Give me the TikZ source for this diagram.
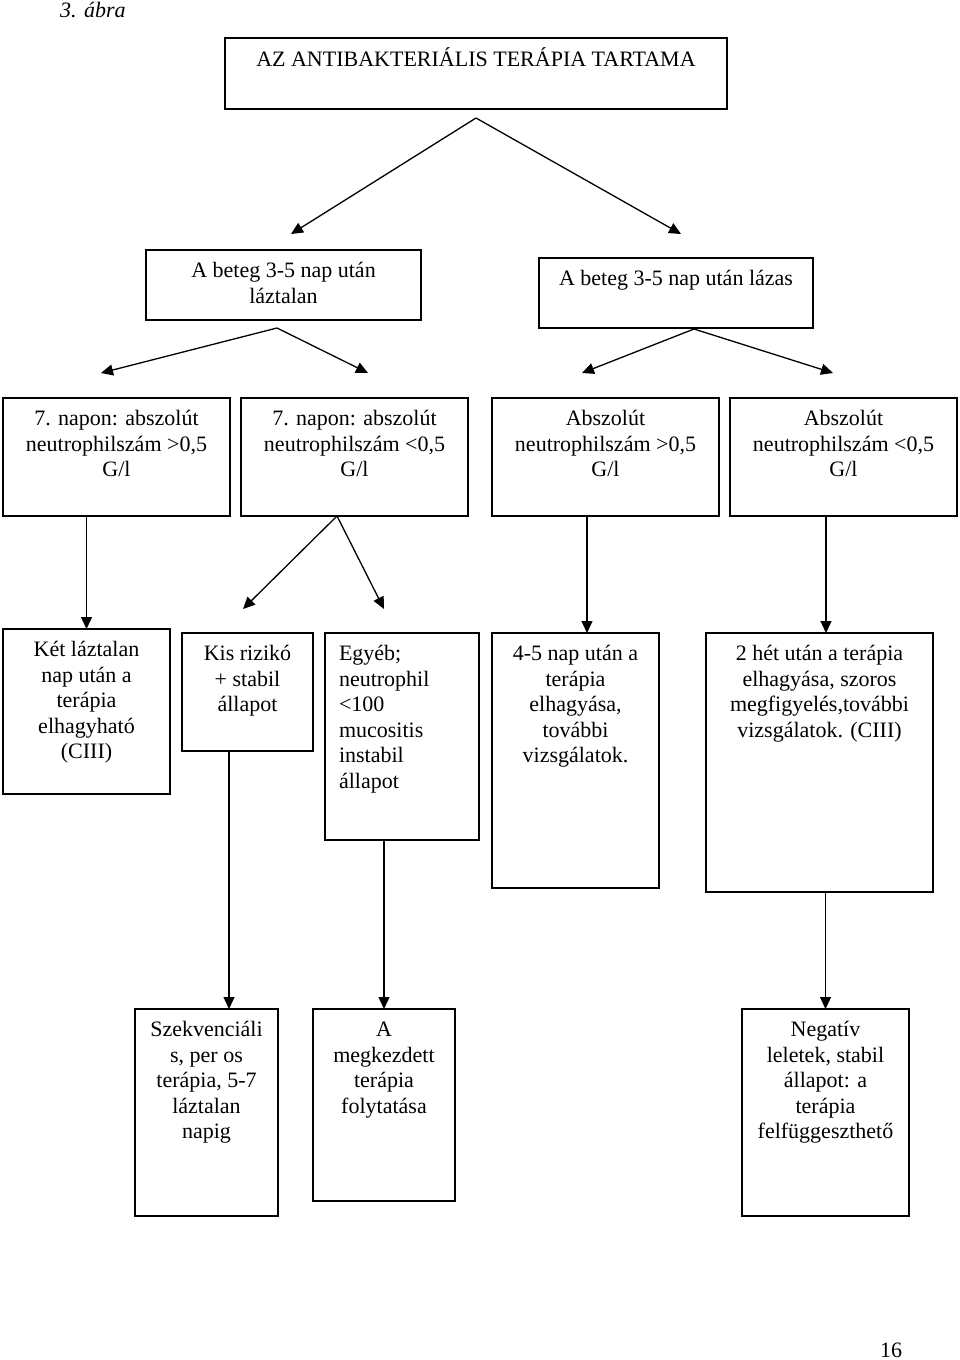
\documentclass[tikz,border=0pt]{standalone}
\usepackage{fontspec}
\setmainfont{Liberation Serif}
\usetikzlibrary{arrows.meta}
\newcommand\boxtext[4]{\parbox[t][#2pt][t]{#1pt}{#3\vspace*{10pt}\strut#4}}
\tikzset{
  box/.style={draw, line width=1.6pt, inner sep=0pt, outer sep=0pt, anchor=north west},
  arr/.style={line width=1.3pt, -{Triangle[length=12pt,width=11pt]}},
}
\begin{document}
\begin{tikzpicture}[x=1pt,y=-1pt,font=\fontsize{22}{25.5}\selectfont]
\useasboundingbox (0,0) rectangle (960,1360);
\node[anchor=base west, inner sep=0pt] (cap) at (60,17) {\itshape 3. ábra};
% level 1
\node[box] (T) at (225,38) {\boxtext{502}{71}{\centering}{AZ ANTIBAKTERIÁLIS TERÁPIA TARTAMA}};
% level 2
\node[box] (A) at (146,250) {\boxtext{275}{70}{\centering}{A beteg 3-5 nap után\\láztalan}};
\node[box] (L) at (539,258) {\boxtext{274}{70}{\centering}{A beteg 3-5 nap után lázas}};
% level 3
\node[box] (B1) at (3,398) {\boxtext{227}{118}{\centering}{7. napon: abszolút\\neutrophilszám >0,5\\G/l}};
\node[box] (B2) at (241,398) {\boxtext{227}{118}{\centering}{7. napon: abszolút\\neutrophilszám <0,5\\G/l}};
\node[box] (B3) at (492,398) {\boxtext{227}{118}{\centering}{Abszolút\\neutrophilszám >0,5\\G/l}};
\node[box] (B4) at (730,398) {\boxtext{227}{118}{\centering}{Abszolút\\neutrophilszám <0,5\\G/l}};
% level 4
\node[box] (C1) at (3,629) {\boxtext{167}{165}{\centering}{Két láztalan\\nap után a\\terápia\\elhagyható\\(CIII)}};
\node[box] (C2) at (182,633) {\boxtext{131}{118}{\centering}{Kis rizikó\\+ stabil\\állapot}};
\node[box] (C3) at (325,633) {\boxtext{154}{207}{\raggedright\leftskip=14pt}{Egyéb;\\neutrophil\\<100\\mucositis\\instabil\\állapot}};
\node[box] (C4) at (492,633) {\boxtext{167}{255}{\centering}{4-5 nap után a\\terápia\\elhagyása,\\további\\vizsgálatok.}};
\node[box] (C5) at (706,633) {\boxtext{227}{259}{\centering}{2 hét után a terápia\\elhagyása, szoros\\megfigyelés,további\\vizsgálatok. (CIII)}};
% level 5
\node[box] (D1) at (135,1009) {\boxtext{143}{207}{\centering}{Szekvenciáli\\s, per os\\terápia, 5-7\\láztalan\\napig}};
\node[box] (D2) at (313,1009) {\boxtext{142}{192}{\centering}{A\\megkezdett\\terápia\\folytatása}};
\node[box] (D3) at (742,1009) {\boxtext{167}{207}{\centering}{Negatív\\leletek, stabil\\állapot: a\\terápia\\felfüggeszthető}};
\node[anchor=base, inner sep=0pt] (pg) at (891,1357) {16};
% connector points
\coordinate (p0) at (476,118);
\coordinate (t0a) at (291,234);
\coordinate (t0b) at (681,234);
\coordinate (p1) at (277,328);
\coordinate (t1a) at (101,373);
\coordinate (t1b) at (368,373);
\coordinate (p2) at (694,329);
\coordinate (t2a) at (582,373);
\coordinate (t2b) at (833,373);
\coordinate (p3) at (337,516);
\coordinate (t3a) at (243,609);
\coordinate (t3b) at (384,609);
\coordinate (c4in) at (587,633);
\coordinate (c5in) at (826,633);
\coordinate (d1in) at (229,1009);
% connectors
\draw[arr] (p0) -- (t0a);
\draw[arr] (p0) -- (t0b);
\draw[arr] (p1) -- (t1a);
\draw[arr] (p1) -- (t1b);
\draw[arr] (p2) -- (t2a);
\draw[arr] (p2) -- (t2b);
\draw[arr] (B1.south -| C1.north) -- (C1.north);
\draw[arr] (p3) -- (t3a);
\draw[arr] (p3) -- (t3b);
\draw[arr] (B3.south -| c4in) -- (c4in);
\draw[arr] (B4.south -| c5in) -- (c5in);
\draw[arr] (C2.south -| d1in) -- (d1in);
\draw[arr] (C3.south -| D2.north) -- (D2.north);
\draw[arr] (C5.south -| D3.north) -- (D3.north);
\end{tikzpicture}
\end{document}
